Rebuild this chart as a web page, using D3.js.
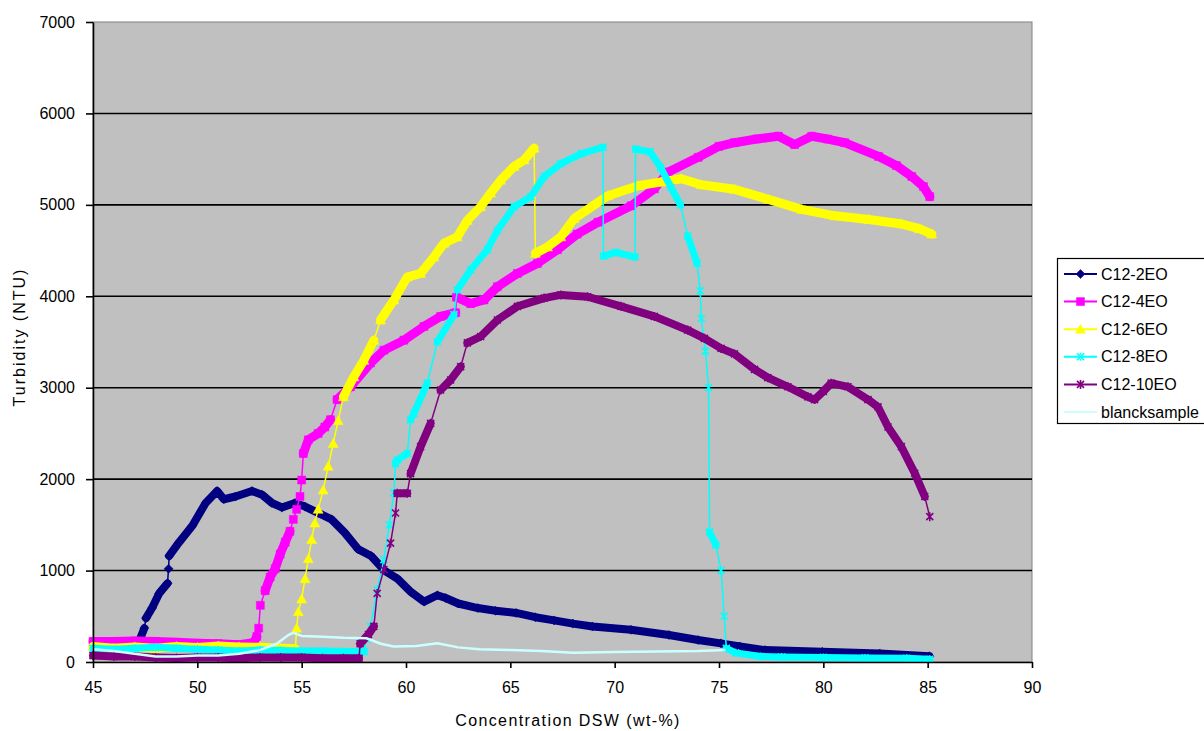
<!DOCTYPE html>
<html><head><meta charset="utf-8">
<script src="https://cdn.jsdelivr.net/npm/d3@7"></script>
<style>
html,body{margin:0;padding:0;background:#fff;}
svg{display:block;}
text{font-family:"Liberation Sans",Arial,sans-serif;fill:#000;}
</style></head>
<body><svg id="chart" width="1204" height="731"></svg>
<script>
// ---- data (x = concentration wt-%, y = turbidity NTU) ----
const xTicks = [45,50,55,60,65,70,75,80,85,90];
const yTicks = [0,1000,2000,3000,4000,5000,6000,7000];
const seriesNames = ["C12-2EO","C12-4EO","C12-6EO","C12-8EO","C12-10EO","blancksample"];
const seriesColors = ["#000080","#FF00FF","#FFFF00","#00FFFF","#800080","#CCFFFF"];

const c12_2EO = [[47.25,250],[47.46,370],[47.54,480],[47.83,590],[48.17,750],[48.57,860],[48.62,1020],[48.65,1160],[49.13,1310],[49.76,1490],[50.4,1740],[50.95,1870],[51.27,1780],[51.83,1810],[52.62,1870],[53.1,1830],[53.57,1740],[54.05,1690],[54.68,1740],[55.16,1700],[55.79,1630],[56.43,1560],[57.06,1415],[57.7,1235],[58.33,1160],[58.97,1000],[59.6,910],[60.24,765],[60.87,660],[61.5,730],[61.9,700],[62.5,640],[63.44,590],[64.3,560],[65.28,537],[66.2,490],[67.1,455],[68,420],[68.94,389],[70.78,352],[72.6,296],[74,240],[75.09,204],[76,170],[77.2,130],[79.95,111],[82.7,93],[85.08,63]];

const c12_4EO = [[45,225],[46,225],[47,230],[48,225],[49,215],[50,205],[51,200],[52,190],[52.7,210],[52.85,280],[52.94,370],[53.02,620],[53.25,780],[53.49,930],[53.73,1020],[53.97,1180],[54.21,1310],[54.44,1430],[54.6,1560],[54.76,1670],[54.92,1810],[55.0,1990],[55.08,2280],[55.32,2430],[55.79,2500],[56.11,2570],[56.38,2650],[56.7,2870],[57.34,3010],[58.3,3270],[58.94,3410],[59.9,3520],[60.86,3670],[61.66,3780],[62.38,3820],[62.42,3990],[63.1,3920],[63.74,3960],[64.38,4105],[65.34,4250],[66.3,4360],[67.26,4510],[68.2,4680],[69.2,4810],[70.79,4990],[71.9,5175],[72.57,5360],[74.0,5520],[75.0,5640],[75.74,5680],[76.8,5720],[77.85,5750],[78.62,5660],[79.44,5750],[80.2,5720],[81.02,5680],[82.65,5530],[83.5,5430],[84.24,5310],[84.8,5200],[85.1,5090]];

const c12_6EO = [[45,170],[46,150],[47,165],[48,150],[49,170],[50,160],[51,175],[52,165],[53,160],[54,150],[54.7,145],[54.76,370],[54.84,550],[55.0,690],[55.16,910],[55.32,1130],[55.48,1340],[55.63,1520],[55.79,1670],[56.03,1880],[56.27,2140],[56.51,2390],[56.75,2640],[57.0,2900],[57.5,3120],[57.98,3300],[58.46,3520],[58.78,3740],[59.42,3960],[60.06,4210],[60.7,4250],[61.34,4430],[61.82,4580],[62.46,4650],[62.94,4830],[63.58,4980],[64.06,5130],[64.54,5270],[65.18,5420],[65.66,5490],[66.14,5620],[66.2,4470],[66.78,4540],[67.42,4650],[68.06,4850],[69.68,5100],[71.13,5210],[72.23,5250],[73.19,5285],[74.15,5220],[75.74,5170],[77.37,5060],[78.96,4950],[80.55,4880],[82.18,4840],[83.76,4790],[84.6,4740],[85.2,4680]];

const c12_8EO = [[45,150],[46,140],[47,150],[48,160],[49,150],[50,140],[51,130],[52,120],[53,130],[54,125],[55,120],[56,120],[57,115],[58.0,115],[58.1,250],[58.3,390],[58.62,790],[58.94,1120],[59.2,1500],[59.42,1850],[59.5,2170],[59.58,2210],[60.06,2280],[60.22,2650],[60.38,2720],[61.02,3050],[61.5,3500],[62.3,3800],[62.46,4070],[63.1,4290],[63.9,4510],[64.38,4720],[65.18,4980],[65.98,5090],[66.62,5310],[67.42,5450],[68.4,5560],[69.44,5630],[69.46,4440],[70.06,4480],[70.98,4430],[71.0,5610],[71.7,5580],[72.2,5410],[72.7,5190],[73.15,5000],[73.5,4660],[73.95,4360],[74.1,4060],[74.15,3760],[74.35,3400],[74.5,3000],[74.55,1420],[74.85,1280],[75.1,1000],[75.25,500],[75.35,150],[75.8,100],[77,60],[78,55],[80,50],[82,45],[84,40],[85.1,30]];

const c12_10EO = [[45,70],[46,60],[47,60],[48,50],[49,45],[50,50],[51,50],[52,40],[53,50],[54,50],[55,50],[56,40],[57,40],[57.75,40],[57.8,200],[58.2,300],[58.46,390],[58.62,750],[58.94,1010],[59.26,1300],[59.5,1630],[59.58,1845],[60.06,1845],[60.22,2060],[60.7,2355],[61.18,2610],[61.66,2975],[62.14,3085],[62.62,3230],[62.94,3490],[63.58,3560],[64.38,3740],[65.34,3890],[66.62,3980],[67.42,4015],[68.7,3995],[70.3,3890],[71.9,3780],[73.5,3630],[74.3,3540],[75.1,3430],[75.74,3370],[76.7,3200],[77.34,3110],[78.3,3010],[79.26,2900],[79.58,2870],[80.0,2960],[80.38,3050],[81.18,3010],[82.14,2870],[82.62,2790],[83.1,2570],[83.74,2355],[84.38,2065],[84.86,1810],[85.1,1590]];

const blanksample = [[45,140],[46,120],[47,90],[48,60],[49,60],[50,70],[51,70],[52,90],[53,130],[53.8,200],[54.4,300],[54.6,320],[55,285],[56,275],[57,265],[58.1,260],[58.8,200],[59.4,170],[60.5,175],[61.5,205],[62.5,160],[63.5,140],[65,130],[66.5,120],[68,100],[70,110],[72,115],[74,120],[75.3,130]];

// ---- layout ----
const svg = d3.select("#chart");
const X0 = 93, X1 = 1032, Y0 = 662, Y1 = 22;
const x = d3.scaleLinear().domain([45,90]).range([X0,X1]);
const y = d3.scaleLinear().domain([0,7000]).range([Y0,Y1]);

// plot area
svg.append("rect").attr("x",X0).attr("y",Y1).attr("width",X1-X0).attr("height",Y0-Y1)
  .attr("fill","#C0C0C0").attr("stroke","#808080").attr("stroke-width",1);

// gridlines
svg.append("g").selectAll("line").data(yTicks.filter(t=>t>0 && t<7000)).join("line")
  .attr("x1",X0).attr("x2",X1).attr("y1",d=>y(d)).attr("y2",d=>y(d))
  .attr("stroke","#000").attr("stroke-width",1.6);

// markers
const markerPaths = {
  diamond: "M0,-4.5L4.5,0L0,4.5L-4.5,0Z",
  square: "M-4,-4L4,-4L4,4L-4,4Z",
  triangle: "M0,-5L5,4L-5,4Z",
  cross: "M-3.5,-3.5L3.5,3.5M-3.5,3.5L3.5,-3.5M0,-4L0,-2M0,2L0,4",
  star: "M-3.5,-3.5L3.5,3.5M-3.5,3.5L3.5,-3.5M0,-4.5L0,4.5"
};
function drawMarker(g, px, py, type, color){
  const p = g.append("path").attr("d",markerPaths[type]).attr("transform",`translate(${px},${py})`);
  if(type==="cross"||type==="star") p.attr("fill","none").attr("stroke",color).attr("stroke-width",1.6);
  else p.attr("fill",color).attr("stroke",color).attr("stroke-width",0.5);
}

function drawSeries(data, color, bandW, marker){
  const g = svg.append("g");
  const pts = data.map(d=>[x(d[0]),y(d[1])]);
  // group runs of segments by steepness
  let runs = [];
  for(let i=0;i<pts.length-1;i++){
    const dx = Math.abs(pts[i+1][0]-pts[i][0]), dy = Math.abs(pts[i+1][1]-pts[i][1]);
    const steep = dy > 3*dx;
    const last = runs[runs.length-1];
    if(last && last.steep===steep) last.pts.push(pts[i+1]);
    else runs.push({steep, pts:[pts[i],pts[i+1]]});
  }
  const line = d3.line();
  runs.filter(r=>r.steep).forEach(r=>{
    g.append("path").attr("d",line(r.pts)).attr("fill","none").attr("stroke",color).attr("stroke-width",1.5);
  });
  runs.filter(r=>!r.steep).forEach(r=>{
    g.append("path").attr("d",line(r.pts)).attr("fill","none").attr("stroke",color)
      .attr("stroke-width",bandW).attr("stroke-linejoin","round").attr("stroke-linecap","round");
  });
  if(marker) pts.forEach(p=>drawMarker(g,p[0],p[1],marker,color));
}

drawSeries(c12_2EO, seriesColors[0], 8, "diamond");
drawSeries(c12_4EO, seriesColors[1], 9, "square");
drawSeries(c12_6EO, seriesColors[2], 9, "triangle");
drawSeries(c12_8EO, seriesColors[3], 7, "cross");
drawSeries(c12_10EO, seriesColors[4], 8, "star");
svg.append("path").attr("d",d3.line().x(d=>x(d[0])).y(d=>y(d[1]))(blanksample))
  .attr("fill","none").attr("stroke",seriesColors[5]).attr("stroke-width",2.5).attr("stroke-linejoin","round");

// axes
const yAxis = svg.append("g").attr("transform",`translate(${X0},0)`)
  .call(d3.axisLeft(y).tickValues(yTicks).tickSize(7).tickPadding(11).tickSizeOuter(0).tickFormat(d3.format("d")));
const xAxis = svg.append("g").attr("transform",`translate(0,${Y0})`)
  .call(d3.axisBottom(x).tickValues(xTicks).tickSize(6).tickPadding(14).tickSizeOuter(0).tickFormat(d3.format("d")));
[yAxis,xAxis].forEach(a=>{
  a.select(".domain").attr("stroke","#000").attr("stroke-width",1.6);
  a.selectAll(".tick line").attr("stroke","#000").attr("stroke-width",1.6);
  a.selectAll(".tick text").attr("font-size",16).attr("font-family","Liberation Sans, Arial, sans-serif").attr("fill","#000");
});

// titles
svg.append("text").attr("x",568).attr("y",726).attr("text-anchor","middle")
  .attr("font-size",16).attr("letter-spacing","1.4px").text("Concentration DSW (wt-%)");
svg.append("text").attr("transform","translate(25,337) rotate(-90)").attr("text-anchor","middle")
  .attr("font-size",16).attr("letter-spacing","2px").text("Turbidity (NTU)");

// legend
const lg = svg.append("g");
lg.append("rect").attr("x",1057.5).attr("y",258.5).attr("width",170).attr("height",165)
  .attr("fill","#fff").attr("stroke","#000").attr("stroke-width",1.2);
const legendMarkers = ["diamond","square","triangle","cross","star",null];
seriesNames.forEach((name,i)=>{
  const ly = 274 + i*27.6;
  lg.append("line").attr("x1",1064).attr("x2",1097).attr("y1",ly).attr("y2",ly)
    .attr("stroke",seriesColors[i]).attr("stroke-width",2);
  if(legendMarkers[i]) drawMarker(lg,1080.5,ly,legendMarkers[i],seriesColors[i]);
  lg.append("text").attr("x",1101).attr("y",ly).attr("dy","0.35em").attr("font-size",16).text(name);
});
</script></body></html>
